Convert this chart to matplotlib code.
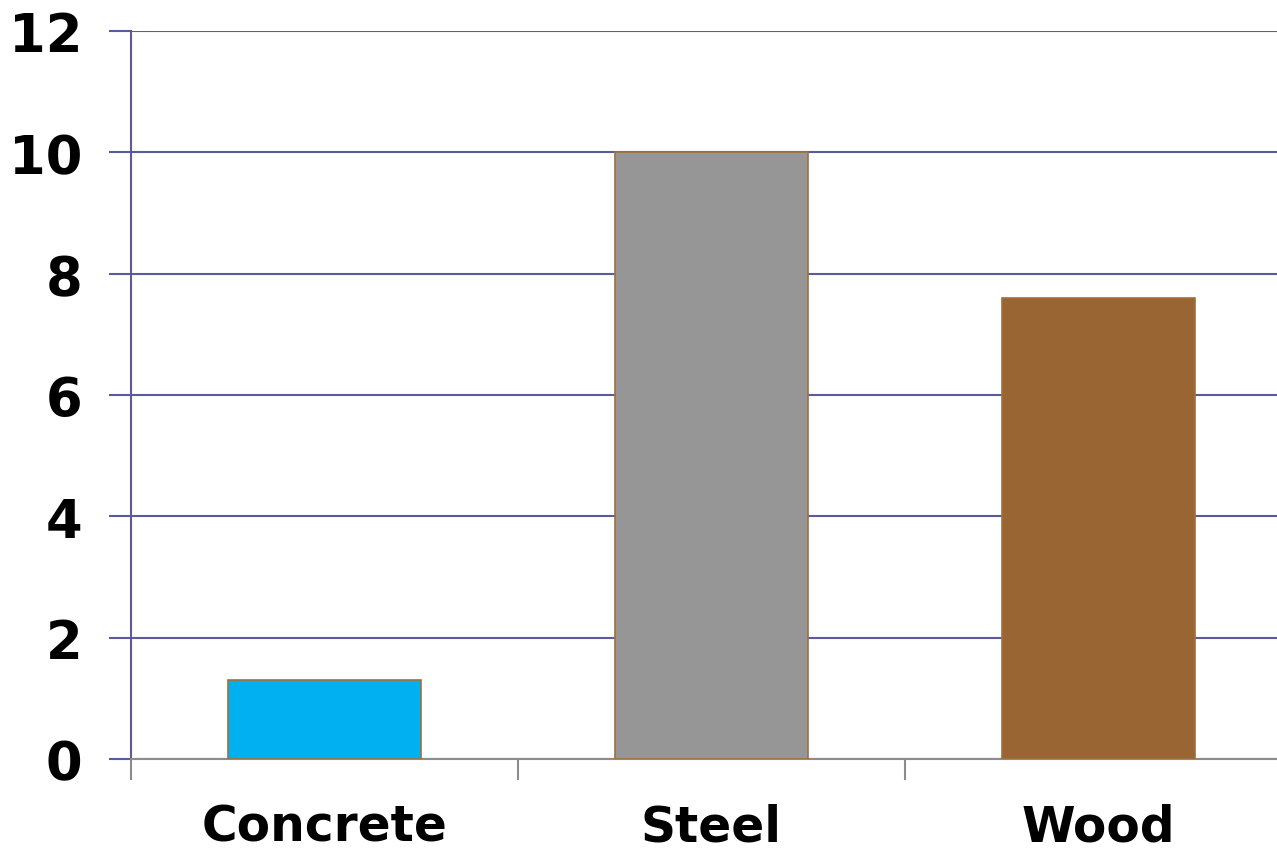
import matplotlib
matplotlib.use('Agg')
import matplotlib.pyplot as plt
import numpy as np

materials = ['Concrete', 'Steel', 'Wood']
values = [1.3, 10.0, 7.6]
barColors = ['#00b0f0', '#969696', '#996633']

gridColor = '#5b5b9b'
axisGray = '#8c8c8c'

fig = plt.figure(figsize=(12.77, 8.53), dpi=100)
ax = fig.add_axes([131 / 1277, 1 - 760 / 853, 1161 / 1277, 728 / 853])

x = np.arange(len(materials))
ax.bar(x, values, width=0.5, color=barColors, edgecolor='#a0703c', linewidth=1.2, zorder=3)

ax.set_xlim(-0.5, len(materials) - 0.5)
ax.set_ylim(0, 12)
ax.set_yticks(np.arange(0, 13, 2))
ax.yaxis.grid(True, color=gridColor, linewidth=1.5, zorder=0)

for side in ['top', 'right']:
    ax.spines[side].set_visible(False)
ax.spines['left'].set_color(gridColor)
ax.spines['left'].set_linewidth(1.5)
ax.spines['bottom'].set_color(axisGray)
ax.spines['bottom'].set_linewidth(1.5)

# category labels centred, tick marks at the category boundaries
ax.set_xticks(x)
ax.set_xticklabels(materials)
ax.set_xticks(np.arange(-0.5, len(materials)), minor=True)
ax.tick_params(axis='x', which='major', length=0, pad=31)
ax.tick_params(axis='x', which='minor', length=15, width=1.5, color=axisGray, direction='out')
ax.tick_params(axis='y', length=16, width=1.5, color=gridColor, pad=19)

for lbl in ax.get_xticklabels():
    lbl.set_fontsize(35)
    lbl.set_fontweight('bold')
for lbl in ax.get_yticklabels():
    lbl.set_fontsize(38)
    lbl.set_fontweight('bold')

plt.savefig('out.png', dpi=100)
plt.close()
